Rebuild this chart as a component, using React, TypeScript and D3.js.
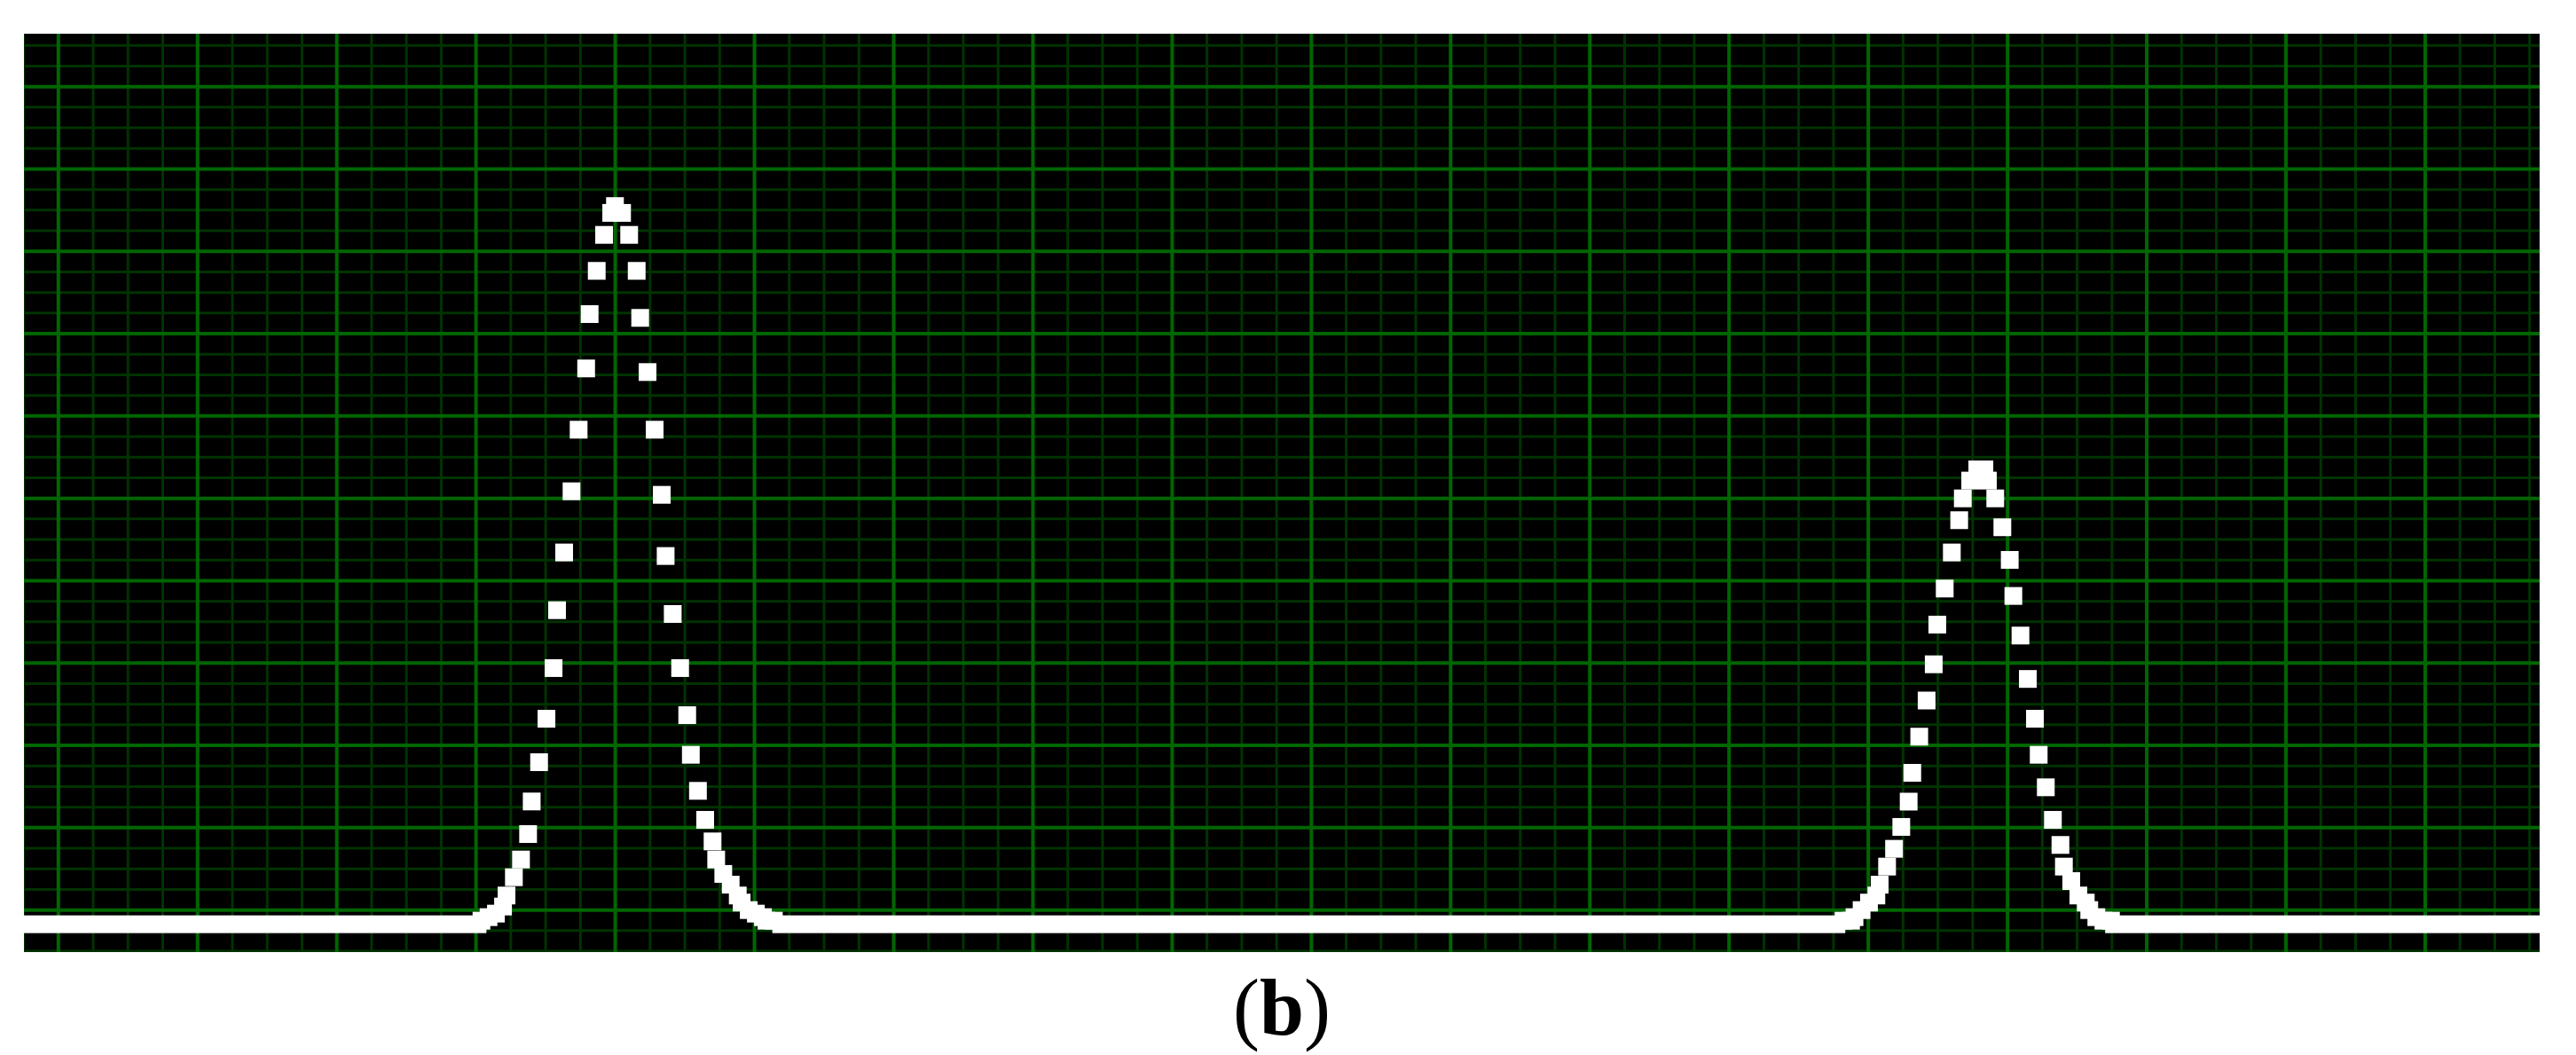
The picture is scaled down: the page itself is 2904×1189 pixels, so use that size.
import React from "react";
import * as d3 from "d3";

// ---- Data (oscilloscope divisions) ----
const xDomain = [-0.247, 17.822];
const yDomain = [-0.51, 10.643];
const majorX = d3.range(0, 18, 1);
const majorY = d3.range(0, 11, 1);
const minorStep = 0.25;
const baselineLevel = -0.172;
const baselineSegments = [
  [-0.4, 3.011],
  [5.192, 12.771],
  [14.765, 18.0],
];
const peak1X = [3.039, 3.09, 3.143, 3.194, 3.219, 3.272, 3.323, 3.374, 3.4, 3.453, 3.506, 3.557, 3.582, 3.633, 3.686, 3.737, 3.791, 3.816, 3.867, 3.92, 3.971, 3.998, 4.049, 4.1, 4.154, 4.179, 4.232, 4.283, 4.334, 4.362, 4.413, 4.466, 4.517, 4.543, 4.594, 4.646, 4.699, 4.725, 4.776, 4.829, 4.88, 4.908, 4.959, 5.01, 5.061, 5.086, 5.139];
const peak1Y = [-0.129, -0.086, -0.043, 0.043, 0.177, 0.399, 0.614, 0.923, 1.319, 1.796, 2.324, 2.939, 3.642, 4.343, 5.086, 5.834, 6.578, 7.238, 7.763, 8.2, 8.467, 8.55, 8.467, 8.2, 7.763, 7.192, 6.534, 5.834, 5.043, 4.3, 3.596, 2.939, 2.367, 1.886, 1.448, 1.096, 0.834, 0.614, 0.439, 0.309, 0.177, 0.091, 0.0, -0.043, -0.086, -0.129, -0.129];
const peak2X = [12.822, 12.876, 12.901, 12.952, 13.005, 13.058, 13.082, 13.135, 13.185, 13.237, 13.29, 13.316, 13.366, 13.419, 13.47, 13.496, 13.549, 13.6, 13.653, 13.679, 13.732, 13.783, 13.834, 13.859, 13.912, 13.963, 14.016, 14.042, 14.093, 14.146, 14.197, 14.224, 14.275, 14.326, 14.38, 14.405, 14.458, 14.509, 14.562, 14.587, 14.638, 14.689, 14.743];
const peak2Y = [-0.129, -0.129, -0.086, 0.0, 0.091, 0.177, 0.309, 0.528, 0.744, 1.01, 1.317, 1.667, 2.106, 2.545, 2.985, 3.467, 3.905, 4.343, 4.735, 5.0, 5.216, 5.352, 5.352, 5.216, 5.0, 4.649, 4.253, 3.815, 3.334, 2.807, 2.324, 1.886, 1.491, 1.096, 0.791, 0.528, 0.352, 0.177, 0.091, 0.0, -0.086, -0.129, -0.129];
const captionLetter = "b";

const W = 2904;
const H = 1189;
const plot = { left: 27, top: 38, right: 2863, bottom: 1073 };
const marker = 20;

export default function App() {
  const x = d3.scaleLinear().domain(xDomain).range([plot.left, plot.right]);
  const y = d3.scaleLinear().domain(yDomain).range([plot.bottom, plot.top]);
  const minorX = d3.range(-1, 18 / minorStep + 1).map((i) => i * minorStep).filter((v) => !Number.isInteger(v));
  const minorY = d3.range(-4, 11 / minorStep + 1).map((i) => i * minorStep).filter((v) => !Number.isInteger(v));
  const pts = [
    ...peak1X.map((v, i) => [v, peak1Y[i]]),
    ...peak2X.map((v, i) => [v, peak2Y[i]]),
  ];
  const majorColor = "#006600";
  const minorColor = "#003300";
  return (
    <svg width={W} height={H} style={{ position: "absolute", left: 0, top: 0, background: "#fff" }}>
      <defs>
        <clipPath id="plotclip">
          <rect x={plot.left} y={plot.top} width={plot.right - plot.left} height={plot.bottom - plot.top} />
        </clipPath>
      </defs>
      <rect x={0} y={0} width={W} height={H} fill="#fff" />
      <g clipPath="url(#plotclip)">
        <rect x={plot.left} y={plot.top} width={plot.right - plot.left} height={plot.bottom - plot.top} fill="#000" />
        {minorX.map((v) => (
          <line key={"mx" + v} x1={x(v)} x2={x(v)} y1={plot.top} y2={plot.bottom} stroke={minorColor} strokeWidth={3} />
        ))}
        {minorY.map((v) => (
          <line key={"my" + v} y1={y(v)} y2={y(v)} x1={plot.left} x2={plot.right} stroke={minorColor} strokeWidth={3} />
        ))}
        {majorX.map((v) => (
          <line key={"Mx" + v} x1={x(v)} x2={x(v)} y1={plot.top} y2={plot.bottom} stroke={majorColor} strokeWidth={4} />
        ))}
        {majorY.map((v) => (
          <line key={"My" + v} y1={y(v)} y2={y(v)} x1={plot.left} x2={plot.right} stroke={majorColor} strokeWidth={4} />
        ))}
        {baselineSegments.map(([a, b], i) => (
          <rect key={"b" + i} x={x(a) - marker / 2} y={y(baselineLevel) - marker / 2} width={x(b) - x(a) + marker} height={marker} fill="#fff" />
        ))}
        {pts.map(([px, py], i) => (
          <rect key={"p" + i} x={x(px) - marker / 2} y={y(py) - marker / 2} width={marker} height={marker} fill="#fff" />
        ))}
      </g>
      <text x={(plot.left + plot.right) / 2} y={1166} textAnchor="middle" fontFamily="'Liberation Serif', 'Times New Roman', serif" fontSize={90} fill="#000">
        <tspan fontWeight="normal">(</tspan>
        <tspan fontWeight="bold">{captionLetter}</tspan>
        <tspan fontWeight="normal">)</tspan>
      </text>
    </svg>
  );
}
